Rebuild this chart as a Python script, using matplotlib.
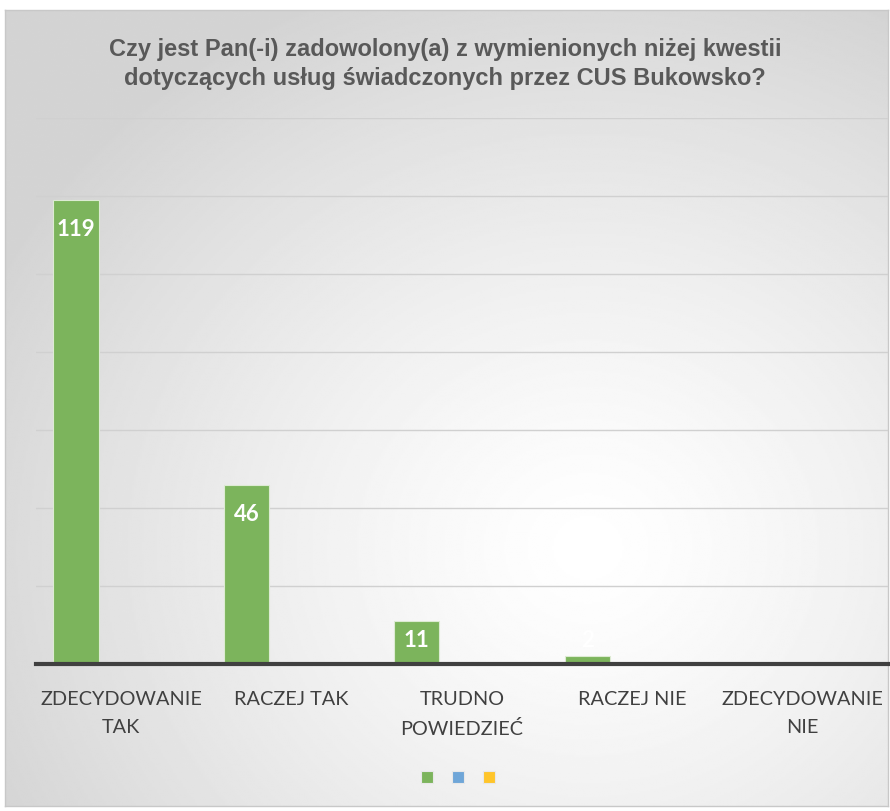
import numpy as np
import matplotlib.pyplot as plt

# data
categories = ['ZDECYDOWANIE\nTAK', 'RACZEJ TAK', 'TRUDNO\nPOWIEDZIEĆ', 'RACZEJ NIE', 'ZDECYDOWANIE\nNIE']
series_green = [119, 46, 11, 2, 0]
series_blue = [0, 0, 0, 0, 0]
series_yellow = [0, 0, 0, 0, 0]
series_colors = ['#7CB45C', '#6FA6D8', '#FFC52A']
title = ('Czy jest Pan(-i) zadowolony(a) z wymienionych niżej kwestii\n'
         'dotyczących usług świadczonych przez CUS Bukowsko?')

W, H = 890, 811
fig = plt.figure(figsize=(W / 100, H / 100), dpi=100)
fig.patch.set_facecolor('white')

# radial gradient background for the chart area
bg = fig.add_axes([5 / W, 1 - 806 / H, 883 / W, 796 / H])
yy, xx = np.mgrid[0:400, 0:440]
cx, cy = 290, 270
r = np.sqrt(((xx - cx) / 440) ** 2 + ((yy - cy) / 400) ** 2)
r = np.clip(r / 0.75, 0, 1)
shade = 1.0 - 0.17 * r ** 1.3
bg.imshow(shade, cmap='gray', vmin=0, vmax=1, aspect='auto', interpolation='bilinear')
bg.set_xticks([])
bg.set_yticks([])
for s in bg.spines.values():
    s.set_color('#C8C8C8')
    s.set_linewidth(1)

ax = fig.add_axes([36 / W, 1 - 664 / H, 852 / W, (664 - 118) / H])
ax.patch.set_alpha(0)

x = np.arange(len(categories))
bw = 0.265
for i, (vals, col) in enumerate(zip([series_green, series_blue, series_yellow], series_colors)):
    ax.bar(x + (i - 1) * bw, vals, width=bw, color=col, edgecolor='#DDEBD3', linewidth=0.8, zorder=3)

for xi, v in zip(x, series_green):
    if v > 0:
        ax.text(xi - bw, max(v - 7.6, 5.9), str(v), ha='center', va='center',
                color='white', fontsize=16, fontweight='bold', family='Lato', zorder=4)

ax.set_xlim(-0.5, len(categories) - 0.5)
ax.set_ylim(0, 140)
ax.set_yticks(np.arange(20, 141, 20))
ax.yaxis.grid(True, color='#D0D0D0', linewidth=1)
ax.set_axisbelow(True)
ax.tick_params(axis='y', left=False, labelleft=False)
ax.tick_params(axis='x', bottom=False, pad=16)
ax.set_xticks(x)
ax.set_xticklabels(categories, fontsize=14.3, color='#404040', family='Lato', linespacing=1.8)
for s in ['top', 'right', 'left']:
    ax.spines[s].set_visible(False)
ax.spines['bottom'].set_color('#404040')
ax.spines['bottom'].set_linewidth(3)
ax.spines['bottom'].set_zorder(5)

fig.text(0.5, 1 - 64 / H, title, ha='center', va='center', fontsize=17, fontweight='bold',
         color='#595959', family='Liberation Sans', linespacing=1.3)

# legend: three coloured squares with no labels
for k, col in enumerate(series_colors):
    fig.patches.append(plt.Rectangle(((421 + 31 * k) / W, 1 - 783 / H), 12 / W, 12 / H,
                                     transform=fig.transFigure, facecolor=col,
                                     edgecolor='#E8E8E8', linewidth=0.8))

fig.savefig('out.png', dpi=100)
